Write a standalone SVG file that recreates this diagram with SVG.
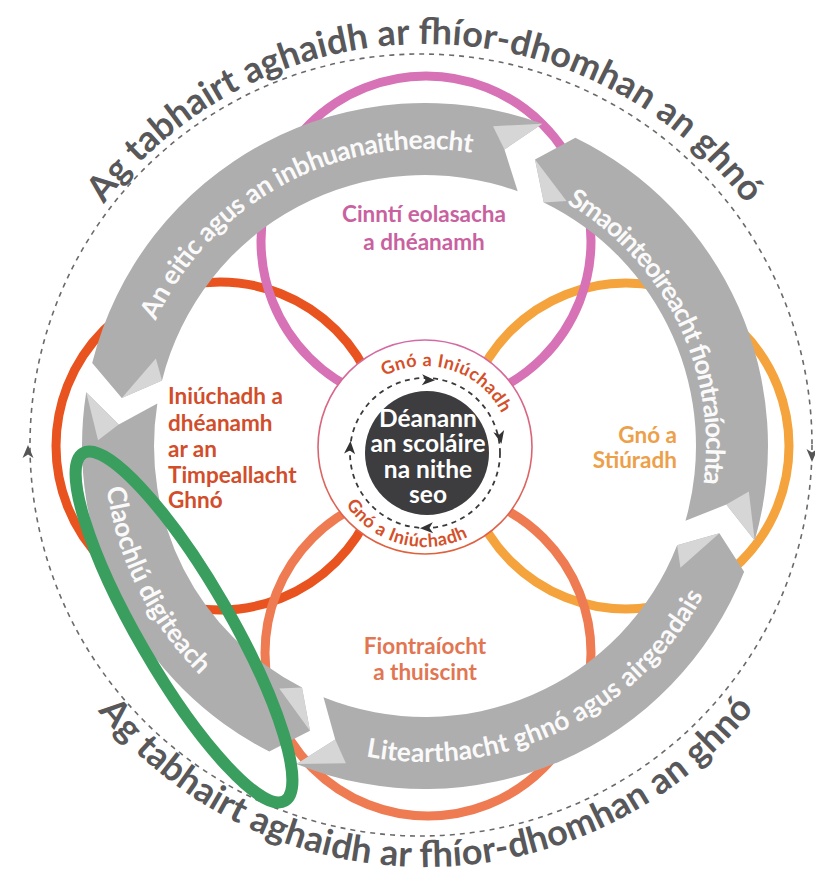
<svg xmlns="http://www.w3.org/2000/svg" width="815" height="879" viewBox="0 0 815 879">
<defs>
<style>
.t{font-family:Lato,'Open Sans','Liberation Sans',sans-serif;font-weight:700}
.ring{fill:none;stroke-width:9}
.band{fill:#afaeae}
.fold{fill:#d6d6d6}
.bt{fill:#fafafa;font-size:26.5px}
.ot{fill:#58585a;font-size:36px}
.it{fill:#d5502a;font-size:18px}
.ct{fill:#ffffff;font-size:24.5px}
.lbl{font-size:22.5px}
.dash-o{fill:none;stroke:#6a6a6a;stroke-width:1.6;stroke-dasharray:5 5}
.dash-i{fill:none;stroke:#3a3a3a;stroke-width:1.8;stroke-dasharray:5 4.5}
</style>
<path id="chev" d="M0,-7 L5.5,6 L0,2.5 L-5.5,6 Z"/>
<linearGradient id="cg" x1="0" y1="0" x2="0" y2="1">
<stop offset="0" stop-color="#d46aa6"/><stop offset="1" stop-color="#e0603c"/>
</linearGradient>
<path id="p-top" d="M103.95,204.07 A402,402 0 0 1 746.05,204.07"/>
<path id="p-bot" d="M97.82,710.94 A421,421 0 0 0 756.75,705.19"/>
<path id="p-a1" d="M134.49,384.25 A297,297 0 0 1 536.26,170.63"/>
<path id="p-a2" d="M492.98,173.35 A281,281 0 0 1 681.71,560.29"/>
<path id="p-a3" d="M293.96,733.55 A316,316 0 0 0 730.94,525.12"/>
<path id="p-a4" d="M130.62,318.0 A321,321 0 0 0 350.06,758.13"/>
<path id="p-i1" d="M378.79,379.47 A86,86 0 0 1 504.45,419.09"/>
<path id="p-i2" d="M339.08,492.52 A95,95 0 0 0 479.83,529.58"/>
</defs>
<rect width="815" height="879" fill="#ffffff"/>

<g id="outer-cycle">
<circle class="dash-o" cx="421" cy="445" r="391"/>
<use href="#chev" fill="#555" transform="translate(28,452)"/>
<use href="#chev" fill="#555" transform="translate(812,455) rotate(180)"/>
</g>

<g id="outer-text-top" class="t ot"><text><textPath href="#p-top" textLength="744" lengthAdjust="spacing">Ag tabhairt aghaidh ar fhíor-dhomhan an ghnó</textPath></text></g>
<g id="outer-text-bottom" class="t ot"><text><textPath href="#p-bot" textLength="752" lengthAdjust="spacing">Ag tabhairt aghaidh ar fhíor-dhomhan an ghnó</textPath></text></g>

<g id="ring-left"><circle class="ring" cx="220" cy="446" r="164" stroke="#e9531f"/></g>
<g id="ring-right"><circle class="ring" cx="626" cy="446" r="163" stroke="#f5a33c"/></g>
<g id="ring-bottom"><circle class="ring" cx="428" cy="653" r="163" stroke="#ef7b53"/></g>
<g id="ring-top"><circle class="ring" cx="426" cy="241" r="165" stroke="#d672b5" stroke-width="8"/></g>

<g id="center">
<circle cx="425" cy="447" r="107" fill="#ffffff" stroke="url(#cg)" stroke-width="1.6"/>
<circle class="dash-i" cx="425" cy="453" r="75"/>
<use href="#chev" fill="#333" transform="translate(428,380) rotate(92)"/>
<use href="#chev" fill="#333" transform="translate(500,437) rotate(168)"/>
<use href="#chev" fill="#333" transform="translate(427,528) rotate(268)"/>
<use href="#chev" fill="#333" transform="translate(350,448) rotate(4)"/>
<circle cx="427" cy="453" r="62" fill="#3d3c3e"/>
<g class="t ct" text-anchor="middle">
<text x="428" y="427">Déanann</text>
<text x="428" y="452">an scoláire</text>
<text x="428" y="478">na nithe</text>
<text x="428" y="503">seo</text>
</g>
<g class="t it">
<text><textPath href="#p-i1" startOffset="50%" text-anchor="middle" textLength="137" lengthAdjust="spacing">Gnó a Iniúchadh</textPath></text>
<text><textPath href="#p-i2" startOffset="50%" text-anchor="middle" textLength="138" lengthAdjust="spacing">Gnó a Iniúchadh</textPath></text>
</g>
</g>

<g id="connectors">
<g id="arrow-top">
<path class="band" d="M162.05,380.44 L121.78,397.98 L92.19,363.02 A343,343 0 0 1 542.31,123.69 L504.46,149.46 L517.69,191.34 A271,271 0 0 0 162.05,380.44 Z"/>
<polygon class="fold" points="162.05,380.44 121.78,397.98 155.85,358.55"/>
<polygon class="fold" points="542.31,123.69 504.46,149.46 492.99,126.14"/>
<text class="t bt"><textPath href="#p-a1" startOffset="50%" text-anchor="middle" textLength="384" lengthAdjust="spacing">An eitic agus an inbhuanaitheacht</textPath></text>
</g>
<g id="arrow-right">
<path class="band" d="M543.80,202.43 L535.02,159.39 L575.36,137.72 A343,343 0 0 1 754.71,540.54 L726.36,504.58 L685.50,520.70 A271,271 0 0 0 543.80,202.43 Z"/>
<polygon class="fold" points="543.80,202.43 535.02,159.39 566.5,200.91"/>
<polygon class="fold" points="754.71,540.54 726.36,504.58 748.82,491.51"/>
<text class="t bt"><textPath href="#p-a2" startOffset="50%" text-anchor="middle" textLength="331" lengthAdjust="spacing">Smaointeoireacht fiontraíochta</textPath></text>
</g>
<g id="arrow-bottom">
<path class="band" d="M677.14,545.32 L719.36,533.19 L744.13,571.71 A343,343 0 0 1 296.51,764.02 L335.24,739.58 L323.48,697.27 A271,271 0 0 0 677.14,545.32 Z"/>
<polygon class="fold" points="677.14,545.32 719.36,533.19 680.43,567.83"/>
<polygon class="fold" points="296.51,764.02 335.24,739.58 345.89,763.29"/>
<text class="t bt"><textPath href="#p-a3" startOffset="50%" text-anchor="middle" textLength="400" lengthAdjust="spacing">Litearthacht ghnó agus airgeadais</textPath></text>
</g>
<g id="arrow-left">
<path class="band" d="M301.97,687.46 L309.99,730.64 L269.28,751.62 A343,343 0 0 1 86.22,392.34 L118.75,424.58 L157.34,403.61 A271,271 0 0 0 301.97,687.46 Z"/>
<polygon class="fold" points="301.97,687.46 309.99,730.64 279.24,688.58"/>
<polygon class="fold" points="86.22,392.34 118.75,424.58 98.05,440.29"/>
<text class="t bt"><textPath href="#p-a4" startOffset="50%" text-anchor="middle" textLength="213" lengthAdjust="spacing">Claochlú digiteach</textPath></text>
</g>
</g>

<g id="label-top" class="t lbl" fill="#c9619f" text-anchor="middle">
<text x="424" y="222">Cinntí eolasacha</text>
<text x="424" y="250">a dhéanamh</text>
</g>
<g id="label-left" class="t lbl" fill="#d24d2a">
<text x="168" y="404">Iniúchadh a</text>
<text x="168" y="431">dhéanamh</text>
<text x="168" y="457">ar an</text>
<text x="168" y="483">Timpeallacht</text>
<text x="168" y="508">Ghnó</text>
</g>
<g id="label-right" class="t lbl" fill="#eda04a" text-anchor="end">
<text x="677" y="443">Gnó a</text>
<text x="677" y="468">Stiúradh</text>
</g>
<g id="label-bottom" class="t lbl" fill="#e27652" text-anchor="middle">
<text x="425" y="654">Fiontraíocht</text>
<text x="425" y="680">a thuiscint</text>
</g>

<g id="highlight">
<ellipse cx="184" cy="627" rx="201" ry="46" transform="rotate(59.9 184 627)" fill="none" stroke="#3a9e5f" stroke-width="12"/>
</g>
</svg>
